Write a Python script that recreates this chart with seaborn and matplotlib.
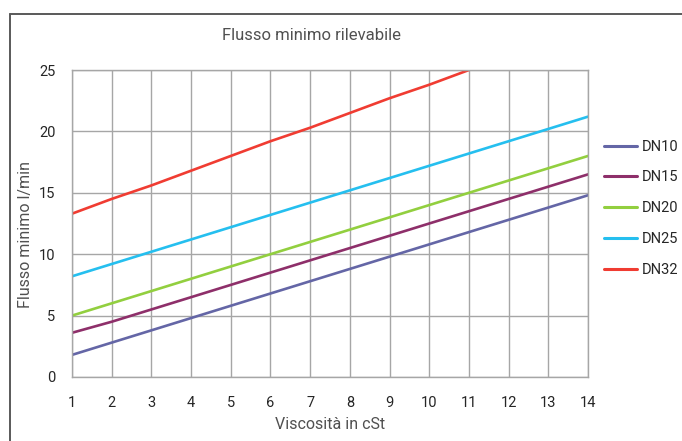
import pandas as pd
import matplotlib.pyplot as plt
import seaborn as sns
from matplotlib.lines import Line2D

# data
viscosita = [1, 2, 3, 4, 5, 6, 7, 8, 9, 10, 11, 12, 13, 14]
dn10 = [1.8, 2.8, 3.8, 4.8, 5.8, 6.8, 7.8, 8.8, 9.8, 10.8, 11.8, 12.8, 13.8, 14.8]
dn15 = [3.6, 4.5, 5.5, 6.5, 7.5, 8.5, 9.5, 10.5, 11.5, 12.5, 13.5, 14.5, 15.5, 16.5]
dn20 = [5.0, 6.0, 7.0, 8.0, 9.0, 10.0, 11.0, 12.0, 13.0, 14.0, 15.0, 16.0, 17.0, 18.0]
dn25 = [8.2, 9.2, 10.2, 11.2, 12.2, 13.2, 14.2, 15.2, 16.2, 17.2, 18.2, 19.2, 20.2, 21.2]
dn32 = [13.3, 14.5, 15.6, 16.8, 18.0, 19.2, 20.3, 21.5, 22.7, 23.8, 25.0]

series = {'DN10': dn10, 'DN15': dn15, 'DN20': dn20, 'DN25': dn25, 'DN32': dn32}
colors = ['#6466A6', '#8E2F6A', '#92CF3F', '#25BFEF', '#F03C32']

rows = []
for name, vals in series.items():
    for x, y in zip(viscosita, vals):
        rows.append({'Viscosita': x, 'Flusso': y, 'Serie': name})
df = pd.DataFrame(rows)

sns.set_style('white')
plt.rcParams['font.family'] = ['Roboto', 'DejaVu Sans']

fig = plt.figure(figsize=(6.82, 4.41), dpi=100)
ax = fig.add_axes([72 / 682, 1 - 377 / 441, (588 - 72) / 682, (377 - 70) / 441])

sns.lineplot(data=df, x='Viscosita', y='Flusso', hue='Serie', palette=colors,
             linewidth=1.9, ax=ax, legend=False)

ax.set_xlim(1, 14)
ax.set_ylim(0, 25)
ax.set_xticks(viscosita)
ax.set_yticks([0, 5, 10, 15, 20, 25])
ax.grid(True, color='#A6A6A6', linewidth=1)
for s in ax.spines.values():
    s.set_color('#A6A6A6')
    s.set_linewidth(1)
ax.tick_params(axis='x', length=0, pad=14, labelsize=10.5, colors='#262626')
ax.tick_params(axis='y', length=0, pad=12, labelsize=10.5, colors='#262626')

ax.set_xlabel('Viscosità in cSt', fontsize=11.5, color='#505050', labelpad=5)
ax.set_ylabel('Flusso minimo l/min', fontsize=11.5, color='#505050', labelpad=8)
ax.yaxis.set_label_coords(-0.076, 0.465)

fig.text(311 / 682, 1 - 35 / 441, 'Flusso minimo rilevabile', ha='center', va='center',
         fontsize=12, color='#505050')

handles = [Line2D([0], [0], color=c, linewidth=2.2) for c in colors]
fig.legend(handles, list(series.keys()), loc='upper left', bbox_to_anchor=(592 / 682, 1 - 128 / 441),
           frameon=False, fontsize=10.5, handlelength=2.3, labelspacing=1.15, handletextpad=0.3,
           borderpad=0.3, labelcolor='#262626')

# outer frame (left and top edges only visible)
fig.add_artist(Line2D([9.5 / 682, 9.5 / 682], [0, 1 - 14 / 441], transform=fig.transFigure,
                      color='#595959', linewidth=1.4))
fig.add_artist(Line2D([9.5 / 682, 1], [1 - 14 / 441, 1 - 14 / 441], transform=fig.transFigure,
                      color='#595959', linewidth=1.4))

fig.savefig('out.png', dpi=100)
